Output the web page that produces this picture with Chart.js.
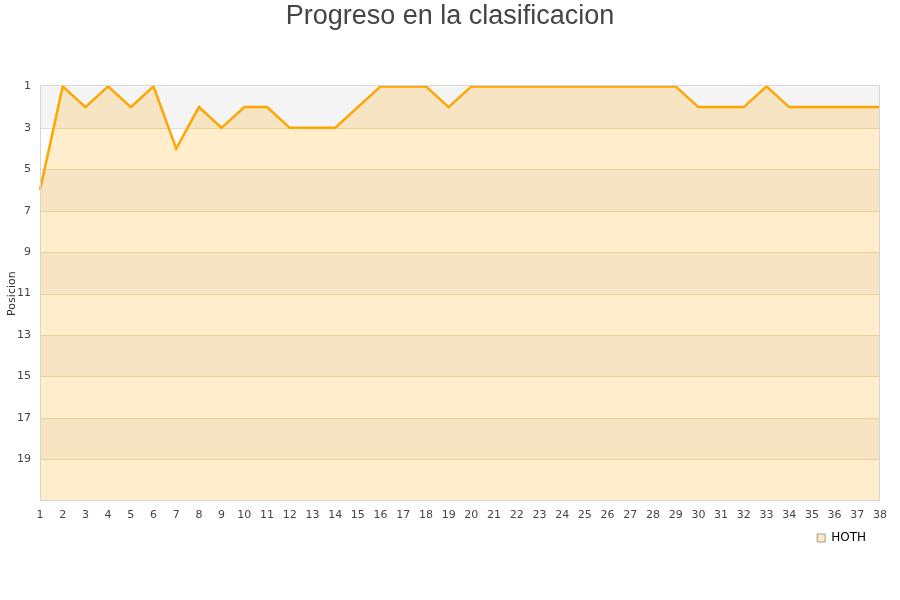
<!DOCTYPE html>
<html lang="en">
<head>
  <meta charset="UTF-8" />
  <title>Progreso en la clasificacion</title>
  <script src="https://cdn.jsdelivr.net/npm/chart.js"></script>
  <style>
    body { margin: 0; background: #fff; }
    #wrap { width: 900px; height: 600px; }
  </style>
</head>
<body>
  <div id="wrap"><canvas id="chart" width="900" height="600"></canvas></div>
  <script>
    const jornadas = ['1','2','3','4','5','6','7','8','9','10','11','12','13','14','15','16','17','18','19',
      '20','21','22','23','24','25','26','27','28','29','30','31','32','33','34','35','36','37','38'];
    const posicionesHoth = [6, 1, 2, 1, 2, 1, 4, 2, 3, 2, 2, 3, 3, 3, 2, 1, 1, 1, 2,
      1, 1, 1, 1, 1, 1, 1, 1, 1, 1, 2, 2, 2, 1, 2, 2, 2, 2, 2];
    const yTicks = [1, 3, 5, 7, 9, 11, 13, 15, 17, 19];

    // alternating grey bands + frame around the plot area
    const bandas = {
      id: 'bandas',
      afterLayout(chart) {
        // centre the title on the whole canvas, not the padded box
        const t = chart.titleBlock;
        if (t) { t.left = 0; t.right = chart.width; t.width = chart.width; }
        const l = chart.legend;
        if (l) { l.right -= 12; l.width -= 12; }
      },
      beforeDatasetsDraw(chart) {
        const { ctx, chartArea: a, scales: { y } } = chart;
        ctx.save();
        ctx.fillStyle = '#f4f4f4';
        for (let v = 1; v < 21; v += 4) {
          const y0 = y.getPixelForValue(v), y1 = y.getPixelForValue(v + 2);
          ctx.fillRect(a.left, y0, a.right - a.left, y1 - y0);
        }
        ctx.strokeStyle = '#e8dcc6';
        ctx.lineWidth = 1;
        yTicks.forEach(v => {
          if (v === 1) return;
          const py = Math.round(y.getPixelForValue(v)) + 0.5;
          ctx.beginPath(); ctx.moveTo(a.left, py); ctx.lineTo(a.right, py); ctx.stroke();
        });
        ctx.restore();
      },
      afterDatasetsDraw(chart) {
        const { ctx, chartArea: a } = chart;
        ctx.save();
        ctx.strokeStyle = '#d6d6d6';
        ctx.lineWidth = 1;
        ctx.strokeRect(Math.round(a.left) + 0.5, Math.round(a.top) - 0.5,
          Math.round(a.right - a.left) - 1, Math.round(a.bottom - a.top) + 1);
        ctx.restore();
      }
    };

    new Chart(document.getElementById('chart'), {
      type: 'line',
      data: {
        labels: jornadas,
        datasets: [{
          label: 'HOTH',
          data: posicionesHoth,
          borderColor: '#ffa500',
          backgroundColor: 'rgba(255,165,0,0.2)',
          borderWidth: 2.5,
          pointRadius: 0,
          tension: 0,
          fill: { value: 21 },
          clip: false
        }]
      },
      options: {
        responsive: false,
        animation: false,
        layout: { padding: { left: 0, right: 20, top: 0, bottom: 46 } },
        plugins: {
          title: {
            display: true,
            text: 'Progreso en la clasificacion',
            color: '#444',
            font: { family: 'Liberation Sans', size: 27, weight: 'normal' },
            padding: { top: 0, bottom: 54 }
          },
          legend: {
            position: 'bottom',
            align: 'end',
            labels: {
              boxWidth: 8,
              boxHeight: 8,
              padding: 2,
              color: '#222',
              font: { family: 'DejaVu Sans', size: 12 },
              generateLabels(chart) {
                return chart.data.datasets.map((ds, i) => ({
                  text: ds.label,
                  fillStyle: 'rgba(255,165,0,0.25)',
                  strokeStyle: '#999',
                  lineWidth: 1,
                  datasetIndex: i
                }));
              }
            }
          },
          tooltip: { enabled: false }
        },
        scales: {
          x: {
            offset: false,
            grid: { display: false, drawTicks: false },
            border: { display: false },
            ticks: {
              color: '#444',
              font: { family: 'DejaVu Sans', size: 11 },
              maxRotation: 0,
              autoSkip: false,
              padding: 8
            }
          },
          y: {
            reverse: true,
            min: 1,
            max: 21,
            grid: { display: false, drawTicks: false },
            border: { display: false },
            afterBuildTicks(scale) { scale.ticks = yTicks.map(v => ({ value: v })); },
            afterFit(scale) { scale.width = 40; },
            ticks: {
              color: '#444',
              font: { family: 'DejaVu Sans', size: 11 },
              padding: 9
            },
            title: {
              display: true,
              text: 'Posicion',
              color: '#333',
              font: { family: 'DejaVu Sans', size: 11 },
              padding: { top: 6, bottom: 0 }
            }
          }
        }
      },
      plugins: [bandas]
    });
  </script>
</body>
</html>
